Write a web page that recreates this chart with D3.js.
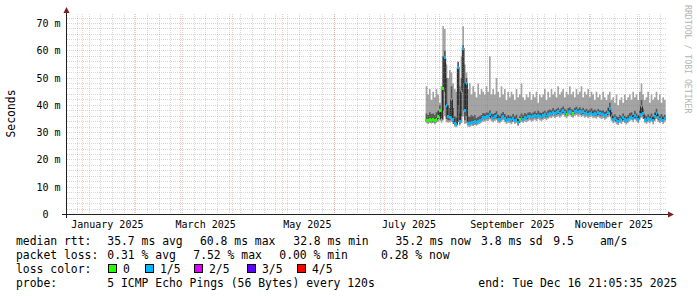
<!DOCTYPE html>
<html>
<head>
<meta charset="utf-8">
<script src="https://cdn.jsdelivr.net/npm/d3@7"></script>
<style>
  body { margin: 0; background: #fff; }
  svg { display: block; }
  text { font-family: "DejaVu Sans Mono", monospace; fill: #000; }
</style>
</head>
<body>
<svg id="chart" width="697" height="297"></svg>
<script>
// one value per day, starting 26 July 2025 (ms)
const dataStart = new Date(2025, 6, 26);

const maxRtt = [
  47, 44, 46, 42, 45, 43, 46, 44, 41, 47,
  69, 68, 55, 50, 53, 52, 48, 46, 45, 55,
  47, 58, 69, 55, 52, 46, 48, 44, 47, 45,
  43, 48, 44, 46, 45, 44, 47, 45, 58, 44,
  46, 44, 50, 45, 43, 47, 44, 46, 42, 45,
  43, 45, 44, 42, 46, 43, 44, 48, 43, 42,
  44, 43, 45, 42, 44, 43, 45, 41, 44, 43,
  44, 46, 42, 45, 43, 46, 44, 45, 43, 47,
  44, 45, 46, 43, 45, 44, 47, 44, 45, 43,
  46, 44, 45, 47, 43, 45, 44, 46, 43, 45,
  44, 42, 45, 43, 44, 42, 45, 43, 42, 44,
  45, 42, 43, 41, 44, 40, 42, 43, 41, 44,
  42, 43, 44, 42, 45, 43, 44, 42, 45, 48,
  44, 42, 43, 45, 41, 44, 42, 43, 45, 42,
  44, 41, 43, 42
];

const upperRtt = [
  37, 36.5, 37.5, 36.8, 37, 36.5, 37.5, 38, 40, 37.5,
  58, 60, 50, 40, 39, 47, 39, 36, 35.5, 56,
  37, 50, 62, 48, 50, 36, 35.8, 36.5, 36, 36.5,
  35.3, 35.8, 36.2, 36.5, 37.2, 37, 37.4, 37.3, 38.2, 37,
  36.8, 37.2, 37.8, 36.6, 36.2, 37, 37.6, 36.8, 36, 36.5,
  36.2, 36, 36.8, 36, 36.6, 35, 36.2, 37, 36.4, 37.2,
  36.7, 37.4, 37.5, 37, 37.4, 37.8, 37.2, 38, 37.4, 37.2,
  37.7, 38, 37.4, 38.2, 38.5, 38.2, 39, 38.3, 38.7, 39.1,
  38.4, 39, 39.6, 38.8, 38.2, 39, 39.3, 38.6, 38.4, 39.1,
  39.5, 38.8, 39.3, 38.6, 39.1, 38.4, 38.8, 38.2, 38.5, 38.9,
  38.2, 38.5, 38, 38.7, 38.3, 37.9, 38.3, 37.6, 38, 39.2,
  41, 37.6, 36.2, 36.7, 36, 35.6, 36.5, 36, 37, 36.2,
  35.8, 36.5, 37.2, 37.5, 36.6, 38, 37, 36.2, 38.2, 42,
  38.8, 36.4, 36, 36.7, 36.2, 37, 35.9, 37.4, 38.8, 36.8,
  36.2, 36.8, 36, 36.6
];

const medianRtt = [
  34.6, 34.4, 34.8, 34.5, 34.7, 34.3, 34.9, 36.0, 38.0, 35.0,
  46.0, 57.5, 40.0, 36.0, 35.5, 42.0, 35.0, 33.2, 33.0, 54.0,
  34.0, 45.0, 61.0, 38.0, 48.0, 33.5, 33.4, 33.8, 33.6, 34.0,
  33.7, 34.2, 34.5, 35.0, 35.6, 35.4, 36.0, 35.8, 36.5, 35.6,
  35.2, 35.8, 36.2, 35.0, 34.8, 35.5, 36.0, 35.3, 34.6, 35.0,
  34.8, 34.5, 35.2, 34.6, 35.0, 33.6, 34.8, 35.4, 35.0, 35.6,
  35.2, 35.8, 36.0, 35.5, 35.9, 36.2, 35.8, 36.4, 36.0, 35.7,
  36.2, 36.5, 36.0, 36.6, 37.0, 36.8, 37.4, 36.9, 37.2, 37.6,
  37.0, 37.5, 38.0, 37.3, 36.8, 37.5, 37.8, 37.2, 37.0, 37.6,
  38.0, 37.4, 37.8, 37.2, 37.6, 37.0, 37.3, 36.8, 37.1, 37.4,
  36.8, 37.0, 36.6, 37.2, 36.9, 36.5, 36.8, 36.2, 36.6, 37.5,
  39.0, 36.0, 34.8, 35.2, 34.5, 34.2, 35.0, 34.6, 35.4, 34.8,
  34.4, 35.0, 35.6, 36.0, 35.2, 36.4, 35.5, 34.8, 36.5, 39.5,
  37.0, 35.0, 34.6, 35.2, 34.8, 35.5, 34.5, 35.8, 37.0, 35.4,
  34.8, 35.3, 34.6, 35.2
];

const lowerRtt = [
  34, 33.8, 34.2, 33.9, 34.1, 33.7, 34.2, 35, 36, 34.3,
  38, 45, 35, 34.5, 34.5, 36, 34, 32.8, 32.6, 40,
  33.3, 36, 48, 34.5, 36, 32.9, 32.8, 33.2, 33, 33.4,
  33.1, 33.6, 33.9, 34.4, 35, 34.8, 35.3, 35.2, 35.8, 35,
  34.6, 35.2, 35.5, 34.4, 34.2, 34.9, 35.4, 34.7, 34, 34.4,
  34.2, 33.9, 34.6, 34, 34.4, 33, 34.2, 34.8, 34.4, 35,
  34.6, 35.2, 35.4, 34.9, 35.3, 35.6, 35.2, 35.8, 35.4, 35.1,
  35.6, 35.9, 35.4, 36, 36.4, 36.2, 36.8, 36.3, 36.6, 37,
  36.4, 36.9, 37.4, 36.7, 36.2, 36.9, 37.2, 36.6, 36.4, 37,
  37.4, 36.8, 37.2, 36.6, 37, 36.4, 36.7, 36.2, 36.5, 36.8,
  36.2, 36.4, 36, 36.6, 36.3, 35.9, 36.2, 35.6, 36, 36.6,
  37.5, 35.3, 34.2, 34.6, 33.9, 33.6, 34.4, 34, 34.8, 34.2,
  33.8, 34.4, 35, 35.3, 34.6, 35.7, 34.9, 34.2, 35.6, 37,
  36, 34.4, 34, 34.6, 34.2, 34.9, 33.9, 35.1, 36, 34.8,
  34.2, 34.7, 34, 34.6
];

const minRtt = [
  33.4, 33.2, 33.5, 33.3, 33.5, 33.1, 33.6, 34, 34.5, 33.6,
  34.5, 36, 33.8, 33.6, 33.8, 34, 33.2, 32.2, 32, 34,
  32.6, 33.5, 36, 33.2, 33.4, 32.2, 32.1, 32.5, 32.4, 32.8,
  32.5, 33, 33.2, 33.6, 34.1, 34, 34.4, 34.3, 34.8, 34.2,
  33.8, 34.3, 34.6, 33.6, 33.4, 34, 34.5, 33.8, 33.2, 33.6,
  33.4, 33.1, 33.8, 33.2, 33.6, 32.4, 33.4, 33.9, 33.6, 34.1,
  33.8, 34.3, 34.5, 34, 34.4, 34.7, 34.3, 34.9, 34.5, 34.2,
  34.7, 35, 34.5, 35.1, 35.5, 35.3, 35.9, 35.4, 35.7, 36,
  35.5, 36, 36.5, 35.8, 35.3, 36, 36.3, 35.7, 35.5, 36.1,
  36.5, 35.9, 36.3, 35.7, 36.1, 35.5, 35.8, 35.3, 35.6, 35.9,
  35.3, 35.5, 35.1, 35.7, 35.4, 35, 35.3, 34.7, 35.1, 35.6,
  36, 34.4, 33.4, 33.8, 33.1, 32.8, 33.6, 33.2, 34, 33.4,
  33, 33.6, 34.2, 34.5, 33.8, 34.8, 34.1, 33.4, 34.7, 35.5,
  35, 33.6, 33.2, 33.8, 33.4, 34.1, 33.1, 34.2, 35, 34,
  33.4, 33.9, 33.2, 33.8
];

// lost pings out of 5 for each day
const lossLevel = [
  0, 0, 0, 0, 0, 0, 0, 0, 0, 0,
  0, 1, 1, 1, 1, 1, 1, 1, 1, 1,
  1, 1, 1, 1, 1, 1, 1, 1, 1, 1,
  1, 1, 1, 1, 1, 1, 1, 1, 1, 1,
  1, 1, 1, 1, 1, 1, 1, 1, 1, 1,
  1, 1, 1, 1, 1, 1, 0, 1, 1, 1,
  1, 1, 1, 1, 1, 1, 1, 1, 1, 1,
  1, 1, 1, 1, 1, 1, 1, 1, 1, 1,
  1, 1, 1, 1, 0, 1, 1, 1, 0, 1,
  1, 1, 1, 1, 1, 1, 1, 1, 1, 1,
  1, 1, 1, 1, 1, 1, 1, 1, 1, 1,
  1, 1, 1, 1, 1, 1, 1, 0, 1, 1,
  1, 1, 1, 1, 1, 1, 1, 1, 1, 1,
  1, 1, 1, 1, 1, 1, 1, 1, 1, 1,
  1, 1, 1, 1
];

const lossNames = ["0", "1/5", "2/5", "3/5", "4/5"];
const lossColors = ["#26ff00", "#00b8ff", "#dd00ff", "#5e00ff", "#ff0000"];

const yTicks = [0, 10, 20, 30, 40, 50, 60, 70];
const yTickLabels = ["0\u00a0\u00a0", "10 m", "20 m", "30 m", "40 m", "50 m", "60 m", "70 m"];
const monthLabels = ["January 2025", "March 2025", "May 2025", "July 2025", "September 2025", "November 2025"];
const monthLabelDates = [new Date(2025, 0, 16), new Date(2025, 2, 16), new Date(2025, 4, 16),
  new Date(2025, 6, 16), new Date(2025, 8, 16), new Date(2025, 10, 16)];

const rttStats = ["35.7 ms avg", "60.8 ms max", "32.8 ms min", "35.2 ms now", "3.8 ms sd", "9.5", "am/s"];
const lossStats = ["0.31 % avg", "7.52 % max", "0.00 % min", "0.28 % now"];
const probeText = "5 ICMP Echo Pings (56 Bytes) every 120s";
const endText = "end: Tue Dec 16 21:05:35 2025";

const svg = d3.select("#chart");

const x = d3.scaleTime()
  .domain([new Date(2024, 11, 22, 12), new Date(2025, 11, 17, 12)])
  .range([66.5, 666.5]);
const y = d3.scaleLinear().domain([0, 73.3]).range([214.5, 14.5]);

const rows = medianRtt.map((m, i) => ({
  t: d3.timeDay.offset(dataStart, i),
  p1: minRtt[i], p2: lowerRtt[i], med: m, p4: upperRtt[i], p5: maxRtt[i], loss: lossLevel[i]
}));
// closing point so the last step has a width
const stepRows = rows.concat([{ ...rows[rows.length - 1], t: d3.timeDay.offset(dataStart, rows.length) }]);

const px = v => Math.floor(v) + 0.5;

// smoke
const plot = svg.append("g");
plot.append("path")
  .attr("d", d3.area().curve(d3.curveStepAfter)
    .x(d => x(d.t)).y0(d => y(d.p1)).y1(d => y(d.p5))(stepRows))
  .attr("fill", "#a4a4a4");
plot.append("path")
  .attr("d", d3.area().curve(d3.curveStepAfter)
    .x(d => x(d.t)).y0(d => y(d.p2)).y1(d => y(d.p4))(stepRows))
  .attr("fill", "#585858");
plot.append("path")
  .attr("d", d3.line().curve(d3.curveStepAfter)
    .x(d => x(d.t)).y(d => y(d.med))(stepRows))
  .attr("fill", "none")
  .attr("stroke", "#202020")
  .attr("stroke-width", 1);

// median coloured by loss
plot.selectAll("rect.med")
  .data(rows)
  .enter()
  .append("rect")
  .attr("x", d => x(d.t))
  .attr("width", d => x(d3.timeDay.offset(d.t, 1)) - x(d.t))
  .attr("y", d => y(d.med) - 1.5)
  .attr("height", 3)
  .attr("fill", d => lossColors[d.loss])
  .attr("shape-rendering", "crispEdges");

// grid (drawn over the graph like rrdtool)
const grid = svg.append("g");
const minorGrid = "rgba(143,143,143,0.6)";
const majorGrid = "rgba(222,79,79,0.45)";
const minorY = d3.range(0, 74, 2).filter(v => v % 10 !== 0);
grid.selectAll("line.hy")
  .data(minorY)
  .enter()
  .append("line")
  .attr("x1", 67).attr("x2", 667)
  .attr("y1", d => px(y(d))).attr("y2", d => px(y(d)))
  .attr("stroke", minorGrid)
  .attr("stroke-width", 0.6)
  .attr("stroke-dasharray", "1,1");
const weeks = d3.timeWeek.range(x.domain()[0], x.domain()[1]);
grid.selectAll("line.wk")
  .data(weeks)
  .enter()
  .append("line")
  .attr("x1", d => px(x(d))).attr("x2", d => px(x(d)))
  .attr("y1", 14).attr("y2", 214)
  .attr("stroke", minorGrid)
  .attr("stroke-width", 0.6)
  .attr("stroke-dasharray", "1,1");
grid.selectAll("line.my")
  .data(yTicks.slice(1))
  .enter()
  .append("line")
  .attr("x1", 67).attr("x2", 667)
  .attr("y1", d => px(y(d))).attr("y2", d => px(y(d)))
  .attr("stroke", majorGrid)
  .attr("stroke-width", 0.7)
  .attr("stroke-dasharray", "1,1");
const months = d3.timeMonth.range(x.domain()[0], x.domain()[1]);
grid.selectAll("line.mo")
  .data(months)
  .enter()
  .append("line")
  .attr("x1", d => px(x(d))).attr("x2", d => px(x(d)))
  .attr("y1", 14).attr("y2", 214)
  .attr("stroke", majorGrid)
  .attr("stroke-width", 0.7)
  .attr("stroke-dasharray", "1,1");

// axes
svg.append("line")
  .attr("x1", 62).attr("x2", 671).attr("y1", 214.5).attr("y2", 214.5)
  .attr("stroke", "#1f1f1f");
svg.append("line")
  .attr("x1", 66.5).attr("x2", 66.5).attr("y1", 218).attr("y2", 10)
  .attr("stroke", "#1f1f1f");
svg.append("path")
  .attr("d", "M668,211.5L674,214.5L668,217.5Z")
  .attr("fill", "#801f1f");
svg.append("path")
  .attr("d", "M63.5,13L66.5,7L69.5,13Z")
  .attr("fill", "#801f1f");

// y labels
svg.selectAll("text.yl")
  .data(yTicks)
  .enter()
  .append("text")
  .attr("x", 60.5)
  .attr("y", d => y(d) + 3.5)
  .attr("text-anchor", "end")
  .style("font-size", "10px")
  .text((d, i) => yTickLabels[i]);

// x labels
svg.selectAll("text.xl")
  .data(monthLabels)
  .enter()
  .append("text")
  .attr("x", (d, i) => x(monthLabelDates[i]))
  .attr("y", 227.5)
  .attr("text-anchor", "middle")
  .style("font-size", "10px")
  .text(d => d);

svg.append("text")
  .attr("transform", "translate(15,113.5) rotate(-90)")
  .attr("text-anchor", "middle")
  .style("font-size", "11.4px")
  .text("Seconds");

svg.append("text")
  .attr("transform", "translate(685,5) rotate(90)")
  .style("font-size", "8.2px")
  .style("fill", "#b4b4b4")
  .text("RRDTOOL / TOBI OETIKER");

// legend
const legend = svg.append("g").style("font-size", "11.4px");
const addText = (tx, ty, s) => legend.append("text").attr("x", tx).attr("y", ty).text(s);

addText(16, 245, "median rtt:");
[107.3, 200, 293.3, 395.5, 481, 553.3, 600].forEach((tx, i) => addText(tx, 245, rttStats[i]));

addText(16, 259.3, "packet loss:");
[107.3, 193.3, 279.3, 381].forEach((tx, i) => addText(tx, 259.3, lossStats[i]));

addText(16, 273.3, "loss color:");
const boxX = [108.5, 145.5, 194.5, 247.5, 297.5];
lossNames.forEach((n, i) => {
  legend.append("rect")
    .attr("x", boxX[i]).attr("y", 264.5)
    .attr("width", 8).attr("height", 8)
    .attr("fill", lossColors[i])
    .attr("stroke", "#000");
  addText(boxX[i] + 14.5, 273.3, n);
});

addText(16, 287.3, "probe:");
addText(107.3, 287.3, probeText);
addText(478.3, 287.3, endText);
</script>
</body>
</html>
